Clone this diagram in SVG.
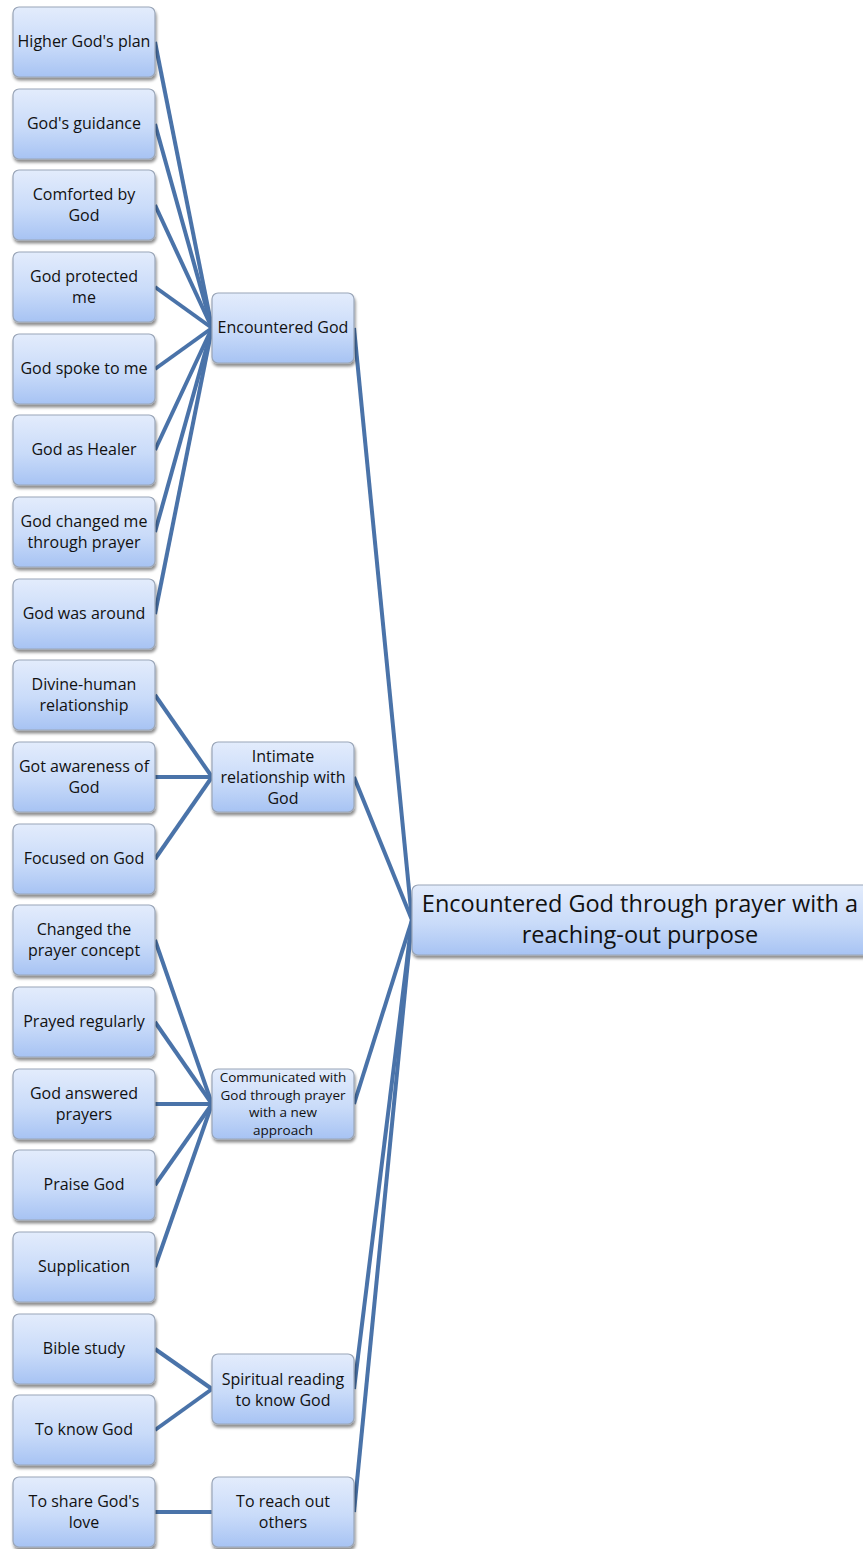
<svg xmlns="http://www.w3.org/2000/svg" width="863" height="1549" viewBox="0 0 863 1549">
  <defs>
    <linearGradient id="fill" x1="0" y1="0" x2="0" y2="1">
      <stop offset="0" stop-color="#e3ecfc"/>
      <stop offset="0.55" stop-color="#c9dbf9"/>
      <stop offset="1" stop-color="#a7c3f3"/>
    </linearGradient>
    <filter id="shadow" x="-10%" y="-10%" width="125%" height="140%">
      <feGaussianBlur in="SourceAlpha" stdDeviation="1.6"/>
      <feOffset dx="1" dy="2.5" result="b"/>
      <feComponentTransfer><feFuncA type="linear" slope="0.45"/></feComponentTransfer>
      <feMerge><feMergeNode/><feMergeNode in="SourceGraphic"/></feMerge>
    </filter>
  </defs>
  <style>
    .box { fill: url(#fill); stroke: #9aa6b8; stroke-width: 1.2; filter: url(#shadow); }
    .t { font-family: "Open Sans", "Noto Sans", sans-serif; font-size: 16px; fill: #111; text-anchor: middle; }
    .s { font-size: 13.5px; }
    .big { font-size: 23.5px; }
    .edges line { stroke: #4a73a9; stroke-width: 4; stroke-linecap: butt; }
  </style>

  <rect width="863" height="1549" fill="#ffffff"/>

  <!-- connectors -->
  <g id="connectors" class="edges">
    <line x1="155" y1="42" x2="212" y2="328"/>
    <line x1="155" y1="124" x2="212" y2="328"/>
    <line x1="155" y1="205" x2="212" y2="328"/>
    <line x1="155" y1="287" x2="212" y2="328"/>
    <line x1="155" y1="369" x2="212" y2="328"/>
    <line x1="155" y1="450" x2="212" y2="328"/>
    <line x1="155" y1="532" x2="212" y2="328"/>
    <line x1="155" y1="614" x2="212" y2="328"/>

    <line x1="155" y1="695" x2="212" y2="777"/>
    <line x1="155" y1="777" x2="212" y2="777"/>
    <line x1="155" y1="859" x2="212" y2="777"/>

    <line x1="155" y1="940" x2="212" y2="1104"/>
    <line x1="155" y1="1022" x2="212" y2="1104"/>
    <line x1="155" y1="1104" x2="212" y2="1104"/>
    <line x1="155" y1="1185" x2="212" y2="1104"/>
    <line x1="155" y1="1267" x2="212" y2="1104"/>

    <line x1="155" y1="1349" x2="212" y2="1389"/>
    <line x1="155" y1="1430" x2="212" y2="1389"/>

    <line x1="155" y1="1512" x2="212" y2="1512"/>

    <line x1="354" y1="328" x2="412" y2="920"/>
    <line x1="354" y1="777" x2="412" y2="920"/>
    <line x1="354" y1="1104" x2="412" y2="920"/>
    <line x1="354" y1="1389" x2="412" y2="920"/>
    <line x1="354" y1="1512" x2="412" y2="920"/>
  </g>

  <!-- leaf nodes -->
  <g id="n1"><rect class="box" x="13" y="7" width="142" height="70" rx="6"/><text class="t" x="84" y="47">Higher God's plan</text></g>
  <g id="n2"><rect class="box" x="13" y="89" width="142" height="70" rx="6"/><text class="t" x="84" y="129">God's guidance</text></g>
  <g id="n3"><rect class="box" x="13" y="170" width="142" height="70" rx="6"/><text class="t" x="84" y="200">Comforted by</text><text class="t" x="84" y="221">God</text></g>
  <g id="n4"><rect class="box" x="13" y="252" width="142" height="70" rx="6"/><text class="t" x="84" y="282">God protected</text><text class="t" x="84" y="303">me</text></g>
  <g id="n5"><rect class="box" x="13" y="334" width="142" height="70" rx="6"/><text class="t" x="84" y="374">God spoke to me</text></g>
  <g id="n6"><rect class="box" x="13" y="415" width="142" height="70" rx="6"/><text class="t" x="84" y="455">God as Healer</text></g>
  <g id="n7"><rect class="box" x="13" y="497" width="142" height="70" rx="6"/><text class="t" x="84" y="527">God changed me</text><text class="t" x="84" y="548">through prayer</text></g>
  <g id="n8"><rect class="box" x="13" y="579" width="142" height="70" rx="6"/><text class="t" x="84" y="619">God was around</text></g>
  <g id="n9"><rect class="box" x="13" y="660" width="142" height="70" rx="6"/><text class="t" x="84" y="690">Divine-human</text><text class="t" x="84" y="711">relationship</text></g>
  <g id="n10"><rect class="box" x="13" y="742" width="142" height="70" rx="6"/><text class="t" x="84" y="772">Got awareness of</text><text class="t" x="84" y="793">God</text></g>
  <g id="n11"><rect class="box" x="13" y="824" width="142" height="70" rx="6"/><text class="t" x="84" y="864">Focused on God</text></g>
  <g id="n12"><rect class="box" x="13" y="905" width="142" height="70" rx="6"/><text class="t" x="84" y="935">Changed the</text><text class="t" x="84" y="956">prayer concept</text></g>
  <g id="n13"><rect class="box" x="13" y="987" width="142" height="70" rx="6"/><text class="t" x="84" y="1027">Prayed regularly</text></g>
  <g id="n14"><rect class="box" x="13" y="1069" width="142" height="70" rx="6"/><text class="t" x="84" y="1099">God answered</text><text class="t" x="84" y="1120">prayers</text></g>
  <g id="n15"><rect class="box" x="13" y="1150" width="142" height="70" rx="6"/><text class="t" x="84" y="1190">Praise God</text></g>
  <g id="n16"><rect class="box" x="13" y="1232" width="142" height="70" rx="6"/><text class="t" x="84" y="1272">Supplication</text></g>
  <g id="n17"><rect class="box" x="13" y="1314" width="142" height="70" rx="6"/><text class="t" x="84" y="1354">Bible study</text></g>
  <g id="n18"><rect class="box" x="13" y="1395" width="142" height="70" rx="6"/><text class="t" x="84" y="1435">To know God</text></g>
  <g id="n19"><rect class="box" x="13" y="1477" width="142" height="70" rx="6"/><text class="t" x="84" y="1507">To share God's</text><text class="t" x="84" y="1528">love</text></g>

  <!-- category nodes -->
  <g id="c1"><rect class="box" x="212" y="293" width="142" height="70" rx="6"/><text class="t" x="283" y="333">Encountered God</text></g>
  <g id="c2"><rect class="box" x="212" y="742" width="142" height="70" rx="6"/><text class="t" x="283" y="762">Intimate</text><text class="t" x="283" y="783">relationship with</text><text class="t" x="283" y="804">God</text></g>
  <g id="c3"><rect class="box" x="212" y="1069" width="142" height="70" rx="6"/><text class="t s" x="283" y="1082">Communicated with</text><text class="t s" x="283" y="1100">God through prayer</text><text class="t s" x="283" y="1117">with a new</text><text class="t s" x="283" y="1135">approach</text></g>
  <g id="c4"><rect class="box" x="212" y="1354" width="142" height="70" rx="6"/><text class="t" x="283" y="1385">Spiritual reading</text><text class="t" x="283" y="1406">to know God</text></g>
  <g id="c5"><rect class="box" x="212" y="1477" width="142" height="70" rx="6"/><text class="t" x="283" y="1507">To reach out</text><text class="t" x="283" y="1528">others</text></g>

  <!-- central theme -->
  <g id="theme"><rect class="box" x="412" y="885" width="458" height="70" rx="6"/><text class="t big" x="640" y="912">Encountered God through prayer with a</text><text class="t big" x="640" y="943">reaching-out purpose</text></g>
</svg>
